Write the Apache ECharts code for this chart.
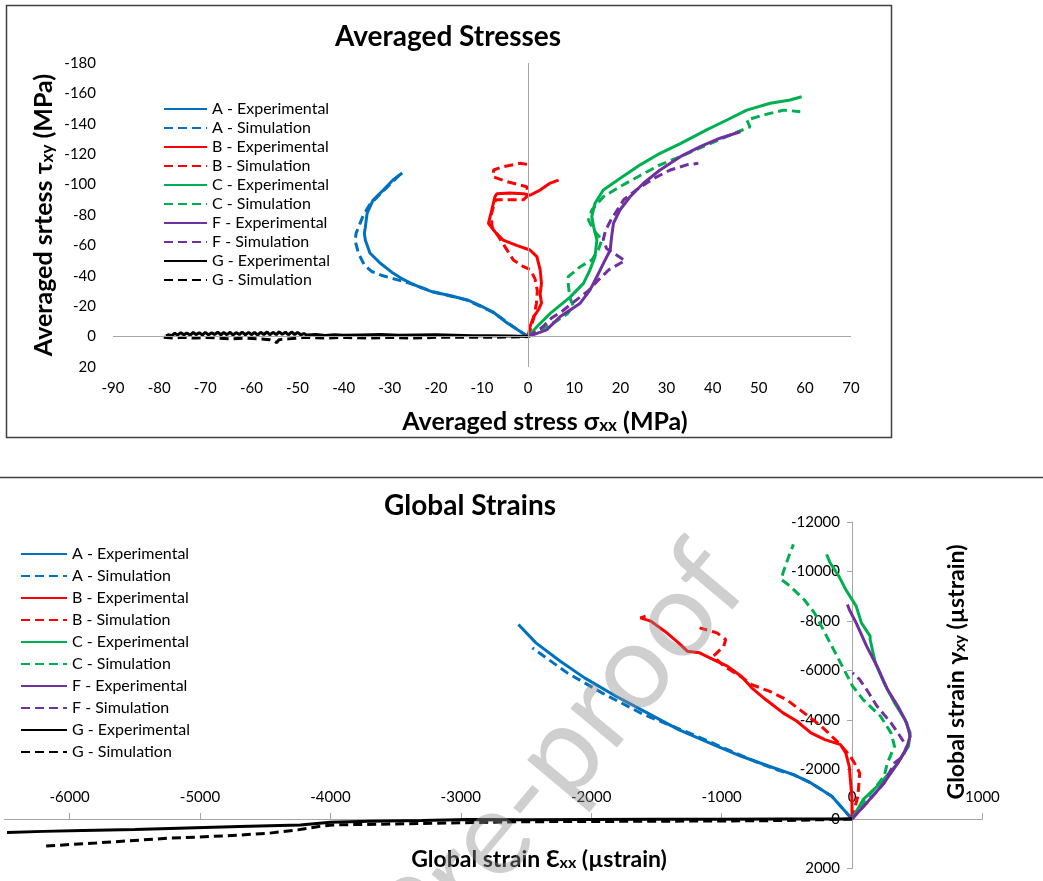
<!DOCTYPE html>
<html><head><meta charset="utf-8">
<script src="https://cdn.jsdelivr.net/npm/echarts@6/dist/echarts.min.js"></script>
<style>html,body{margin:0;padding:0;background:#fff}#c{width:1043px;height:881px}</style>
</head><body><div id="c"></div><script>
// ---------- Top chart: Averaged Stresses (sigma_xx, tau_xy) in MPa ----------
const aExpTop = [[0,0],[-2.2,-4.3],[-5,-10],[-7.6,-16.2],[-10.5,-20.5],[-13.2,-24.1],[-17,-27],[-20.6,-29.3],[-23.5,-32.5],[-25.6,-35.3],[-27.6,-38.5],[-29.3,-41.8],[-32.1,-48.4],[-34.3,-55],[-35.3,-63.6],[-35.5,-68],[-35.3,-72],[-34.9,-81.3],[-33.6,-89.9],[-31.4,-96.4],[-29.3,-103],[-27.3,-107.6]];
const aSimTop = [[0,0],[-2.2,-4.3],[-7.6,-16],[-13.2,-24],[-20.6,-29.5],[-25.6,-35],[-28.5,-37.5],[-31.5,-40],[-34,-43],[-35.5,-47],[-36.8,-55],[-37.5,-63],[-37.3,-68],[-36.5,-74],[-35.7,-80],[-34.3,-87],[-32,-94],[-30,-100],[-28,-106]];
const bExpTop = [[0,0],[0.4,-6.5],[1.2,-13],[2.3,-18],[2.9,-22],[2.6,-28],[2.9,-35],[2.6,-44],[1.9,-52.6],[0.4,-57],[-2.5,-60],[-5.4,-63.5],[-7.2,-69],[-8.6,-74.5],[-7.9,-83],[-7.2,-92],[-6.8,-94],[-4,-94.5],[-1,-94],[0.4,-93],[2.6,-96.4],[4.8,-101],[6.6,-103]];
const bSimTop = [[0,0],[0.5,-5],[1.2,-12],[1.8,-22],[2,-30],[1.5,-38],[0.5,-44],[-1,-46],[-3.2,-50.4],[-5,-59],[-6.4,-65.7],[-7.8,-72],[-8,-80],[-7.5,-86],[-7,-90],[-4,-90],[-1,-90],[0,-93],[-0.3,-98.6],[-4.6,-102],[-7.5,-105],[-7.5,-109.6],[-5.4,-111.8],[-1.7,-114],[0.4,-113]];
const cExpTop = [[0,0],[1.9,-6.5],[4.8,-15.3],[9.1,-26],[12,-35],[13.4,-43.8],[14.5,-52.6],[14.9,-63.6],[14.2,-72.3],[13.8,-79],[14.5,-87.7],[16.3,-96.4],[19.9,-104],[24.3,-113],[28.6,-120.6],[33,-127],[38.7,-136],[43.1,-142.5],[47.4,-149],[52.5,-153.5],[56.8,-155.7],[59.3,-157.8]];
const cSimTop = [[0,0],[3,-5],[6,-10],[8.5,-15],[9.8,-20],[9,-26],[8.7,-35],[8.7,-39.4],[11.3,-46],[13.8,-50.4],[15.2,-57],[16,-63.6],[14.2,-70],[13.1,-76.7],[13.8,-83.3],[16.3,-92],[19.9,-98.6],[24.3,-106],[28.6,-113],[33,-118.4],[38.7,-126],[43.8,-132.6],[48.1,-138],[47.4,-142.5],[51,-145.8],[55.4,-149],[59,-148]];
const fExpTop = [[0,0],[4,-4.4],[6.9,-13],[11.3,-22],[13.4,-30.6],[14.9,-39.4],[16.3,-48],[17.8,-57],[18.1,-65.7],[18.5,-74.5],[19.9,-83.3],[22.1,-92],[25,-100.9],[28.6,-109.6],[33,-118.4],[37.3,-125],[41.6,-130.5],[46,-134.8]];
const fSimTop = [[0,0],[3,-6],[5,-12],[7.5,-17],[10,-23],[13,-30],[15.5,-38],[17.5,-44],[21,-50],[19,-54],[17,-58],[16.3,-64],[16.8,-70],[18,-77],[19.5,-84],[20.7,-90],[23.4,-96.4],[27.2,-104],[30.8,-109.6],[34.4,-113],[36.9,-114]];
const gExpTop = [[-78.5,-0.5],[-78,-1.2],[-77.3,-0.6],[-76.6,-2.2],[-76,-1],[-75.3,-2.6],[-74.6,-1.2],[-74,-2.4],[-73.3,-1],[-72.6,-2.7],[-72,-1.3],[-71.3,-2.5],[-70.6,-1.1],[-70,-2.8],[-69.3,-1.2],[-68.6,-2.6],[-68,-1.4],[-67.3,-2.9],[-66.6,-1.2],[-66,-2.7],[-65.3,-1.3],[-64.6,-2.8],[-64,-1.1],[-63.3,-2.6],[-62.6,-1.4],[-62,-2.9],[-61.3,-1.2],[-60.6,-2.8],[-60,-1.3],[-59.3,-2.7],[-58.6,-1],[-58,-2.9],[-57.3,-1.4],[-56.6,-3],[-56,-1.2],[-55.3,-2.8],[-54.6,-1.3],[-54,-3.1],[-53.3,-1.5],[-52.6,-2.9],[-52,-1.2],[-51.3,-3],[-50.6,-1.4],[-50,-2.8],[-49.3,-1.2],[-48.6,-2],[-48,-1],[-46,-1.4],[-44,-0.8],[-42,-1.2],[-40,-0.9],[-36,-1.1],[-32,-1.3],[-28,-0.9],[-24,-1.1],[-20,-1.2],[-16,-0.9],[-12,-0.6],[-8,-0.5],[-4,-0.4],[0,0]];
const gSimTop = [[-79,0.5],[-77,1],[-75,0.5],[-72,1],[-70,0.5],[-67,1],[-64,1.5],[-61,1],[-58,1.5],[-56,2],[-55,3],[-54.5,4],[-54,2],[-52,1.5],[-50,1],[-48,0.5],[-44,1],[-40,0.5],[-35,1],[-30,0.5],[-25,1],[-20,0.5],[-15,0.5],[-10,0.5],[-5,0.3],[0,0]];

// ---------- Bottom chart: Global Strains (eps_xx, gamma_xy) in microstrain ----------
const aExpBot = [[0,0],[-155,-917],[-315,-1456],[-449,-1793],[-635,-2130],[-849,-2534],[-1063,-3006],[-1330,-3613],[-1570,-4287],[-1810,-4961],[-2051,-5702],[-2237,-6376],[-2424,-7117],[-2558,-7859]];
const aSimBot = [[0,0],[-155,-917],[-315,-1456],[-449,-1793],[-582,-1995],[-716,-2265],[-983,-2871],[-1250,-3478],[-1597,-4219],[-1917,-5095],[-2184,-5904],[-2451,-6915]];
const bExpBot = [[0,0],[0,-782],[-8,-1321],[-21,-2130],[-48,-2669],[-88,-3006],[-208,-3208],[-315,-3478],[-422,-3950],[-529,-4287],[-662,-4826],[-769,-5298],[-849,-5769],[-956,-6174],[-1063,-6443],[-1169,-6713],[-1263,-6780],[-1330,-7117],[-1436,-7589],[-1543,-7994],[-1623,-8128],[-1583,-8196]];
const bSimBot = [[0,0],[45,-917],[59,-1860],[19,-2265],[-21,-2600],[-128,-3208],[-235,-3747],[-368,-4287],[-502,-4826],[-635,-5163],[-769,-5432],[-876,-5837],[-983,-6174],[-1063,-6578],[-983,-6983],[-969,-7252],[-1036,-7522],[-1169,-7724]];
const cExpBot = [[0,0],[85,-782],[219,-1456],[352,-2265],[433,-2939],[446,-3478],[406,-4017],[326,-4691],[246,-5500],[179,-6308],[139,-7252],[139,-7387],[72,-7926],[32,-8600],[-48,-9274],[-101,-9813],[-168,-10352],[-195,-10690]];
const cSimBot = [[0,0],[59,-512],[166,-1186],[246,-1725],[272,-2265],[326,-2939],[299,-3478],[219,-4152],[85,-4826],[5,-5365],[-48,-5904],[-128,-6713],[-208,-7522],[-288,-8330],[-368,-8869],[-475,-9409],[-542,-9678],[-529,-9948],[-502,-10352],[-475,-10757],[-449,-11094]];
const fExpBot = [[0,0],[112,-647],[246,-1456],[352,-2265],[419,-2871],[446,-3343],[419,-3882],[352,-4556],[272,-5230],[192,-6174],[112,-6983],[32,-7926],[-21,-8465],[-35,-8668]];
const fSimBot = [[0,0],[112,-647],[246,-1456],[326,-2265],[392,-2534],[419,-2939],[352,-3478],[299,-3882],[192,-4556],[112,-5230],[59,-5635],[5,-5904]];
const gExpBot = [[-6480,550],[-6200,500],[-5900,460],[-5500,420],[-5100,360],[-4700,300],[-4230,240],[-4000,130],[-3700,90],[-3300,60],[-2950,20],[-2500,30],[-2000,20],[-1500,15],[-1000,10],[-500,5],[0,0]];
const gSimBot = [[-6180,1090],[-5800,970],[-5250,780],[-4800,680],[-4480,580],[-4250,440],[-4100,310],[-3980,240],[-3500,200],[-3200,175],[-2570,110],[-2000,100],[-1500,90],[-1000,80],[-500,60],[0,0]];

const xTicksBot = [-6000,-5000,-4000,-3000,-2000,-1000,0,1000];
const seriesNames = ['A - Experimental','A - Simulation','B - Experimental','B - Simulation','C - Experimental','C - Simulation','F - Experimental','F - Simulation','G - Experimental','G - Simulation'];
const seriesColors = ['#0070C0','#0070C0','#FF0000','#FF0000','#00B050','#00B050','#7030A0','#7030A0','#000000','#000000'];
const topData = [aExpTop,aSimTop,bExpTop,bSimTop,cExpTop,cSimTop,fExpTop,fSimTop,gExpTop,gSimTop];
const botData = [aExpBot,aSimBot,bExpBot,bSimBot,cExpBot,cSimBot,fExpBot,fSimBot,gExpBot,gSimBot];

const FONT = 'Lato, "Liberation Sans", sans-serif';
function mk(i, data, gi) {
  const dashed = i % 2 === 1;
  return {
    type: 'line', name: seriesNames[i], data: data, xAxisIndex: gi, yAxisIndex: gi,
    showSymbol: false, symbol: 'none', animation: false,
    lineStyle: { color: seriesColors[i], width: 3, type: dashed ? [9, 5] : 'solid' },
    itemStyle: { color: seriesColors[i] }
  };
}
const series = [];
series.push({
  type: 'line', data: [[0,0]], xAxisIndex: 0, yAxisIndex: 0, symbol: 'none', showSymbol: false,
  lineStyle: { opacity: 0 }, animation: false, silent: true,
  markLine: { silent: true, symbol: 'none', animation: false, label: { show: false },
    lineStyle: { color: '#a6a6a6', width: 1, type: 'solid' },
    data: [{ xAxis: 0 }, { yAxis: 0 }] }
});
topData.forEach((d, i) => series.push(mk(i, d, 0)));
botData.forEach((d, i) => series.push(mk(i, d, 1)));

const lab = { fontFamily: FONT, fontSize: 15, color: '#000', formatter: v => String(v) };
const gray = '#a6a6a6';
const hidden = { show: false };

const legendBase = { data: seriesNames, orient: 'vertical', itemHeight: 14, selectedMode: false, padding: 0,
  itemStyle: { opacity: 0 }, textStyle: { fontFamily: FONT, fontSize: 16, color: '#000' } };

const chart = echarts.init(document.getElementById('c'), null, { renderer: 'canvas' });
chart.setOption({
  backgroundColor: '#fff',
  animation: false,
  title: [
    { text: 'Averaged Stresses', left: 448, top: 23, textAlign: 'center', padding: 0,
      textStyle: { fontFamily: FONT, fontSize: 28, fontWeight: 'bold', color: '#000' } },
    { text: 'Global Strains', left: 470, top: 492, textAlign: 'center', padding: 0,
      textStyle: { fontFamily: FONT, fontSize: 28, fontWeight: 'bold', color: '#000' } }
  ],
  grid: [
    { left: 113, right: 192, top: 63, bottom: 514, outerBoundsMode: 'none' },
    { left: 4.4, right: 60.6, top: 522, bottom: 12.5, outerBoundsMode: 'none' },
    { left: 4.4, right: 60.6, top: 522, bottom: 62, outerBoundsMode: 'none' },
    { left: 4.4, right: 191, top: 522, bottom: 12.5, outerBoundsMode: 'none' }
  ],
  legend: [
    Object.assign({ left: 163, top: 101, itemWidth: 43, itemGap: 3 }, legendBase),
    Object.assign({ left: 20, top: 546, itemWidth: 46, itemGap: 6 }, legendBase)
  ],
  xAxis: [
    { gridIndex: 0, type: 'value', min: -90, max: 70, interval: 10, position: 'bottom',
      axisLine: { show: false, onZero: false }, axisTick: { show: false }, splitLine: { show: false },
      axisLabel: Object.assign({ margin: 14 }, lab) },
    { gridIndex: 1, type: 'value', min: -6500, max: 1000,
      axisLine: hidden, axisTick: hidden, axisLabel: hidden, splitLine: hidden },
    { gridIndex: 2, type: 'value', min: -6500, max: 1000, position: 'bottom',
      axisLine: { show: true, onZero: false, lineStyle: { color: gray, width: 1 } },
      axisTick: { show: true, inside: true, length: 6, customValues: xTicksBot, lineStyle: { color: gray } },
      axisLabel: Object.assign({ inside: true, margin: 14, customValues: xTicksBot }, lab),
      splitLine: hidden },
    { gridIndex: 3, type: 'value', min: -6500, max: 0,
      axisLine: hidden, axisTick: hidden, axisLabel: hidden, splitLine: hidden }
  ],
  yAxis: [
    { gridIndex: 0, type: 'value', inverse: true, min: -180, max: 20, interval: 20, position: 'left',
      axisLine: { show: false, onZero: false }, axisTick: { show: false }, splitLine: { show: false },
      axisLabel: Object.assign({ margin: 17 }, lab) },
    { gridIndex: 1, type: 'value', inverse: true, min: -12000, max: 2000,
      axisLine: hidden, axisTick: hidden, axisLabel: hidden, splitLine: hidden },
    { gridIndex: 2, type: 'value', inverse: true, min: -12000, max: 0,
      axisLine: hidden, axisTick: hidden, axisLabel: hidden, splitLine: hidden },
    { gridIndex: 3, type: 'value', inverse: true, min: -12000, max: 2000, interval: 2000, position: 'right',
      axisLine: { show: true, onZero: false, lineStyle: { color: gray, width: 1 } },
      axisTick: { show: true, inside: true, length: 5, lineStyle: { color: gray } },
      axisLabel: Object.assign({ inside: true, margin: 12 }, lab),
      splitLine: hidden }
  ],
  graphic: [
    { type: 'rect', z: -10, shape: { x: 6.5, y: 5.5, width: 885, height: 432 },
      style: { fill: 'none', stroke: '#404040', lineWidth: 1.5 } },
    { type: 'line', z: -10, shape: { x1: 0, y1: 477.5, x2: 1043, y2: 477.5 },
      style: { stroke: '#404040', lineWidth: 1.5 } },
    { type: 'text', x: 545, y: 420, z: 10,
      style: { text: '{b|Averaged stress σ}{s|xx}{b| (MPa)}', align: 'center', verticalAlign: 'middle',
        rich: { b: { fontFamily: FONT, fontSize: 25, fontWeight: 'bold', fill: '#000', verticalAlign: 'bottom', lineHeight: 28 },
                s: { fontFamily: FONT, fontSize: 17, fontWeight: 'bold', fill: '#000', verticalAlign: 'bottom', lineHeight: 26 } } } },
    { type: 'text', x: 42, y: 215, z: 10, rotation: Math.PI / 2,
      style: { text: '{b|Averaged srtess τ}{s|xy}{b| (MPa)}', align: 'center', verticalAlign: 'middle',
        rich: { b: { fontFamily: FONT, fontSize: 25, fontWeight: 'bold', fill: '#000', verticalAlign: 'bottom', lineHeight: 28 },
                s: { fontFamily: FONT, fontSize: 17, fontWeight: 'bold', fill: '#000', verticalAlign: 'bottom', lineHeight: 26 } } } },
    { type: 'text', x: 539, y: 858, z: 10,
      style: { text: '{b|Global strain Ɛ}{s|xx}{b| (µstrain)}', align: 'center', verticalAlign: 'middle',
        rich: { b: { fontFamily: FONT, fontSize: 23, fontWeight: 'bold', fill: '#000', verticalAlign: 'bottom', lineHeight: 26 },
                s: { fontFamily: FONT, fontSize: 16, fontWeight: 'bold', fill: '#000', verticalAlign: 'bottom', lineHeight: 24 } } } },
    { type: 'text', x: 955, y: 672, z: 10, rotation: Math.PI / 2,
      style: { text: '{b|Global strain γ}{s|xy}{b| (µstrain)}', align: 'center', verticalAlign: 'middle',
        rich: { b: { fontFamily: FONT, fontSize: 23, fontWeight: 'bold', fill: '#000', verticalAlign: 'bottom', lineHeight: 26 },
                s: { fontFamily: FONT, fontSize: 16, fontWeight: 'bold', fill: '#000', verticalAlign: 'bottom', lineHeight: 24 } } } },
    { type: 'text', x: 722, y: 562, z: 100, rotation: 50 * Math.PI / 180, silent: true,
      style: { text: 'Journal Pre-proof', font: '120px ' + FONT, fill: 'rgba(140,140,140,0.42)', align: 'right', verticalAlign: 'middle' } }
  ],
  series: series
});
</script></body></html>
